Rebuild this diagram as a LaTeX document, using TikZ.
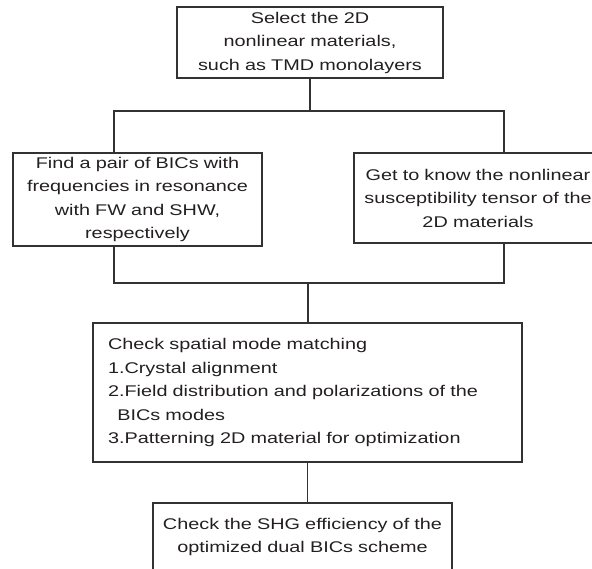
\documentclass[tikz,border=0pt]{standalone}
\usepackage{fontspec}
\setmainfont[FakeStretch=1.28]{Liberation Sans}
\definecolor{linec}{RGB}{50,50,50}
\definecolor{textc}{RGB}{35,31,32}
\begin{document}
\begin{tikzpicture}[x=1pt,y=-1pt,
  box/.style={draw=linec,line width=1.2pt,text=textc,inner xsep=0pt,inner ysep=0pt,
    align=center,font=\fontsize{15.5}{23.5}\selectfont},
  conn/.style={draw=linec,line width=1.2pt}]
\useasboundingbox (0,0) rectangle (592,568);
\clip (0,0) rectangle (592,568);
\node[box,text width=266pt,minimum height=71pt] (top) at (310,42.5)
  {Select the 2D\\nonlinear materials,\\such as TMD monolayers};
\node[box,text width=249pt,minimum height=93pt] (lft) at (137.5,199.5)
  {Find a pair of BICs with\\frequencies in resonance\\with FW and SHW,\\respectively};
\node[box,text width=248pt,minimum height=90pt] (rgt) at (478,198)
  {Get to know the nonlinear\\susceptibility tensor of the\\2D materials};
\node[box,text width=399pt,inner xsep=15pt,minimum height=139pt,align=left] (mid) at (307.5,392.5)
  {Check spatial mode matching\\1.Crystal alignment\\2.Field distribution and polarizations of the\\\hspace*{0.6em}BICs modes\\3.Patterning 2D material for optimization};
\node[box,text width=299pt,minimum height=68pt] (bot) at (302.5,537)
  {Check the SHG efficiency of the\\optimized dual BICs scheme};
\coordinate (lx) at (114,0);
\coordinate (rx) at (504,0);
\coordinate (jt) at (310,111);
\coordinate (jb) at (308,283);
\draw[conn] (top.south) -- (jt);
\draw[conn] (jt) -| (lft.north -| lx);
\draw[conn] (jt) -| (rgt.north -| rx);
\draw[conn] (lft.south -| lx) |- (jb);
\draw[conn] (rgt.south -| rx) |- (jb);
\draw[conn] (jb) -- (jb |- mid.north);
\draw[conn] (mid.south) -- (mid.south |- bot.north);
\end{tikzpicture}
\end{document}
